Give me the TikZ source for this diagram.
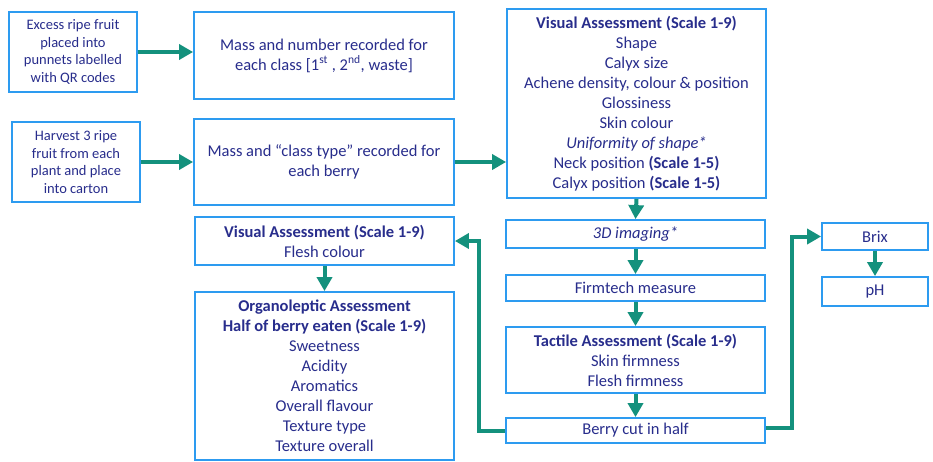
\documentclass[tikz,border=0pt]{standalone}
\usepackage{fontspec}
\setmainfont{Carlito}
\usetikzlibrary{arrows.meta,calc}
\definecolor{boxblue}{RGB}{45,155,240}
\definecolor{txtblue}{RGB}{40,45,140}
\definecolor{teal}{RGB}{20,145,125}
\tikzset{
  box/.style={draw=boxblue, line width=1.8pt, fill=white, text=txtblue, align=center, inner sep=1pt, font=\fontsize{16.5}{20}\selectfont},
  smallbox/.style={box, font=\fontsize{14.5}{17.5}\selectfont},
  flow/.style={draw=teal, line width=4pt, -{Triangle[width=15pt,length=14pt]}},
}
\begin{document}
\begin{tikzpicture}[x=1pt,y=-1pt]
\useasboundingbox (0,0) rectangle (933,461);
\node[smallbox, minimum width=128, minimum height=80] (A) at (73,52) {Excess ripe fruit\\placed into\\punnets labelled\\with QR codes};
\node[box, minimum width=260, minimum height=87] (B) at (324,55.5) {Mass and number recorded for\\each class [1\textsuperscript{st} , 2\textsuperscript{nd}, waste]};
\node[smallbox, minimum width=128, minimum height=80] (C) at (76,162) {Harvest 3 ripe\\fruit from each\\plant and place\\into carton};
\node[box, minimum width=260, minimum height=86] (D) at (324,162) {Mass and “class type” recorded for\\each berry};
\node[box, minimum width=259, minimum height=189] (E) at (636.5,103.5) {\textbf{Visual Assessment (Scale 1-9)}\\Shape\\Calyx size\\Achene density, colour \& position\\Glossiness\\Skin colour\\\textit{Uniformity of shape*}\\Neck position \textbf{(Scale 1-5)}\\Calyx position \textbf{(Scale 1-5)}};
\node[box, minimum width=259, minimum height=28] (I) at (635.5,234) {\textit{3D imaging*}};
\node[box, minimum width=259, minimum height=26] (M) at (635.5,288) {Firmtech measure};
\node[box, minimum width=259, minimum height=66] (T) at (635.5,360) {\textbf{Tactile Assessment (Scale 1-9)}\\Skin firmness\\Flesh firmness};
\node[box, minimum width=259, minimum height=25] (K) at (635.5,430.5) {Berry cut in half};
\node[box, minimum width=259, minimum height=48] (F) at (324.5,241) {\textbf{Visual Assessment (Scale 1-9)}\\Flesh colour};
\node[box, minimum width=259, minimum height=168] (G) at (324.5,376) {\textbf{Organoleptic Assessment}\\\textbf{Half of berry eaten (Scale 1-9)}\\Sweetness\\Acidity\\Aromatics\\Overall flavour\\Texture type\\Texture overall};
\node[box, minimum width=106, minimum height=27] (X) at (875,236.5) {Brix};
\node[box, minimum width=106, minimum height=29] (P) at (875,291.5) {pH};
\draw[flow] (A.east) -- (A.east -| B.west);
\draw[flow] (C.east) -- (C.east -| D.west);
\draw[flow] (D.east) -- (D.east -| E.west);
\draw[flow] (E.south) -- (I.north);
\draw[flow] (I.south) -- (M.north);
\draw[flow] (M.south) -- (T.north);
\draw[flow] (T.south) -- (K.north);
\draw[flow] (F.south) -- (G.north);
\draw[flow] (X.south) -- (P.north);
\coordinate (kl) at (479,430.5);
\coordinate (kr) at (792,428);
\draw[flow] (K.west) -- (kl) |- (F.east);
\draw[flow] (K.east |- kr) -- (kr) |- (X.west);
\end{tikzpicture}
\end{document}
